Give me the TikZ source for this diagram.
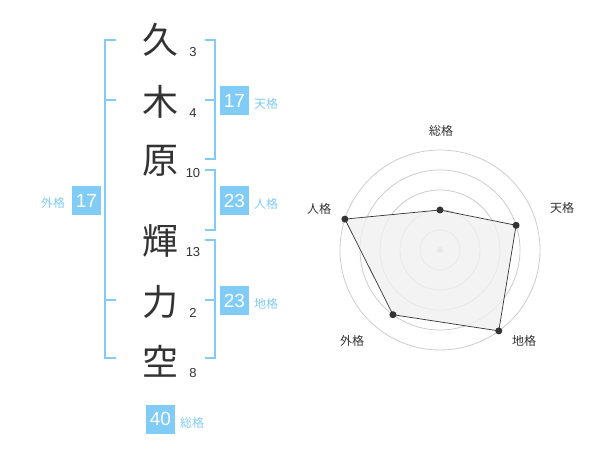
\documentclass[tikz,border=0pt]{standalone}
\usepackage{fontspec}
\setmainfont{Liberation Sans}
\newfontfamily\jp{Noto Sans CJK JP}
\usetikzlibrary{positioning}

\definecolor{kblue}{RGB}{128,204,246}
\definecolor{kink}{RGB}{51,51,51}

\tikzset{
  kanji/.style = {font=\jp\fontsize{36}{36}\selectfont, text=kink, inner sep=0pt},
  strokes/.style = {font=\fontsize{13}{13}\selectfont, text=kink, inner sep=0pt},
  kaku/.style = {fill=kblue, text=white, minimum size=29pt, inner sep=0pt, font=\fontsize{19}{19}\selectfont},
  kakuname/.style = {text=kblue, font=\jp\fontsize{12}{12}\selectfont, inner sep=0pt},
  brace/.style = {draw=kblue, line width=2pt},
  ring/.style = {draw=black!20, line width=0.8pt},
  score/.style = {circle, fill=kink, inner sep=0pt, minimum size=7pt},
  axisname/.style = {text=kink, font=\jp\fontsize{12}{12}\selectfont, inner sep=0pt}
}

\begin{document}
\begin{tikzpicture}[x=1pt, y=-1pt]

\useasboundingbox (0,0) rectangle (600,470);

\node[kanji] (k1) at (160,40) {久};
\node[kanji] (k2) at (160,102) {木};
\node[kanji] (k3) at (160,161) {原};
\node[kanji] (k4) at (160,241) {輝};
\node[kanji] (k5) at (160,302) {力};
\node[kanji] (k6) at (160,361) {空};

\node[strokes] (s1) at (193,52) {3};
\node[strokes] (s2) at (193,113) {4};
\node[strokes] (s3) at (193,173) {10};
\node[strokes] (s4) at (193,252) {13};
\node[strokes] (s5) at (193,313) {2};
\node[strokes] (s6) at (193,373) {8};

\draw[brace] (116,40) -- (105,40) -- (105,358) -- (116,358);
\draw[brace] (105,100) -- (116,100);
\draw[brace] (105,300) -- (116,300);

\draw[brace] (205,40) -- (215,40) -- (215,159) -- (205,159);
\draw[brace] (205,100) -- (215,100);
\draw[brace] (205,170) -- (215,170) -- (215,230) -- (205,230);
\draw[brace] (205,240) -- (215,240) -- (215,358) -- (205,358);
\draw[brace] (205,300) -- (215,300);

\node[kaku] (gai) at (86.5,200.5) {17};
\node[kakuname] (gaiN) at (53,203) {外格};
\node[kaku] (ten) at (234.5,100.5) {17};
\node[kakuname] (tenN) at (266,104) {天格};
\node[kaku] (jin) at (234.5,200.5) {23};
\node[kakuname] (jinN) at (266,204) {人格};
\node[kaku] (chi) at (234.5,300.5) {23};
\node[kakuname] (chiN) at (266,304) {地格};
\node[kaku] (so) at (160.5,419) {40};
\node[kakuname] (soN) at (192,423) {総格};

\coordinate (ctr) at (440,250);
\foreach \r in {20,40,60,80,100}
  \draw[ring] (ctr) circle[radius=\r pt];
\fill[black!20] (ctr) circle[radius=3pt];

\coordinate (soP) at ([shift={(90:40pt)}]ctr);
\coordinate (tenP) at ([shift={(18:80pt)}]ctr);
\coordinate (chiP) at ([shift={(-54:100pt)}]ctr);
\coordinate (gaiP) at ([shift={(-126:80pt)}]ctr);
\coordinate (jinP) at ([shift={(162:100pt)}]ctr);

\draw[fill=black!6, fill opacity=0.8, draw=kink, line width=0.7pt] (soP) -- (tenP) -- (chiP) -- (gaiP) -- (jinP) -- cycle;
\foreach \p in {soP,tenP,chiP,gaiP,jinP}
  \node[score] at (\p) {};

\node[axisname] (soA) at (441,131) {総格};
\node[axisname] (tenA) at (562,208) {天格};
\node[axisname] (chiA) at (524,341) {地格};
\node[axisname] (gaiA) at (352,341) {外格};
\node[axisname] (jinA) at (319,209) {人格};

\end{tikzpicture}
\end{document}
